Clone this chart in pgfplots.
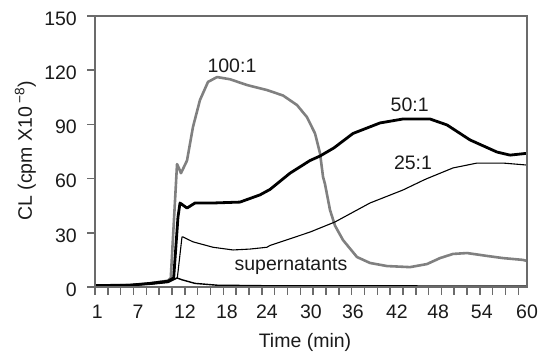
\documentclass[border=0pt]{standalone}
\usepackage{pgfplots}
\pgfplotsset{compat=1.18}
\usepackage{fontspec}
\setmainfont{Liberation Sans}
\definecolor{curvegray}{HTML}{808080}
\definecolor{txt}{HTML}{1A1A1A}
\begin{document}
\fontsize{19.5}{23}\selectfont
\begin{tikzpicture}
\path[use as bounding box] (-95pt,-70pt) rectangle (443pt,287pt);
\begin{axis}[
  at={(0pt,0pt)}, anchor=south west,
  scale only axis, width=432pt, height=271pt,
  xmin=0.7, xmax=60, ymin=0, ymax=150,
  axis line style={black!58, line width=1.6pt},
  major tick length=0pt,
  xtick={1,6.6,13.05,18.8,24.3,30.35,36.1,42.15,47.8,53.8,60},
  xticklabels={1,7,12,18,24,30,36,42,48,54,60},
  ytick={0,30,...,150},
  /pgf/number format/assume math mode=true,
  ticklabel style={txt},
  xticklabel style={inner sep=0pt, anchor=north, yshift=-18pt},
  yticklabel style={inner sep=0pt, anchor=east, xshift=-18pt, yshift=-2.5pt},
  clip=false,
]
% 100:1
\addplot[curvegray, line width=2.6pt, line join=round] coordinates {
(0.7,0.8) (5.5,1) (8.25,2) (10.72,3.5) (11.1,5) (11.96,68) (12.2,66) (12.5,63)
(13.33,70) (14.15,88.6) (15.11,103.5) (16.21,113.5) (17.45,116.2) (19.23,115)
(21.56,111.8) (24.31,109) (26.51,106) (28.43,100.7) (29.8,94) (30.9,85)
(31.59,74) (32.0,61) (32.27,57) (32.96,42.6) (33.64,34) (34.74,26) (36.66,16.6)
(38.45,13.3) (40.78,11.6) (43.94,11) (46.27,12.7) (48.06,16) (49.84,18.3)
(51.76,18.8) (54.51,17.2) (56.71,16) (59.45,15) (60,14.4)};
% 50:1
\addplot[black, line width=2.8pt, line join=round] coordinates {
(0.7,0.8) (5.5,1) (8.25,2) (10.72,3.2) (11.5,5) (12.09,38.7) (12.37,46.5)
(13.33,43.7) (14.43,46.5) (16.9,46.5) (20.6,47) (23.35,51) (24.72,54)
(27.47,63) (30.21,70) (31.59,72.5) (33.5,77) (36.12,85) (39.82,90.8)
(42.98,93) (46.68,93) (49.02,89.7) (52.18,81.4) (55.88,74.7) (57.67,73) (60,74)};
% 25:1
\addplot[black, line width=1.1pt, line join=round] coordinates {
(0.7,0.8) (8.25,1.8) (10.72,3) (12.0,5) (12.64,27.7) (12.78,27.7) (14.15,25)
(16.9,22) (19.64,20.5) (21.98,21) (24.31,22) (24.72,23) (30.21,30.4)
(33.64,36) (38.45,46.5) (42.98,53.7) (45.72,59) (46.27,60) (49.84,65.9)
(53.14,68.6) (56.71,68.6) (60,67.5)};
% supernatants
\addplot[black, line width=1.4pt, line join=round] coordinates {
(0.7,0.5) (8.25,1.5) (10.72,2.5) (11.96,5) (12.64,4) (14.43,2) (17.45,1)
(24,0.7) (60,0.5)};
\node[txt, anchor=base] at (axis cs:19.5,119) {100:1};
\node[txt, anchor=base] at (axis cs:43.9,96.9) {50:1};
\node[txt, anchor=base] at (axis cs:44.35,64.8) {25:1};
\node[txt, anchor=base] at (axis cs:27.6,8.9) {supernatants};
\end{axis}
\draw[black!58, line width=1.6pt] (0pt,0pt) rectangle (432pt,271pt);
\foreach \k in {0,...,33} {
  \draw[black!58, line width=1.5pt] (12.83pt*\k,0pt) -- (12.83pt*\k,-7.5pt);
}
\foreach \k in {0,...,5} {
  \draw[black!58, line width=1.5pt] (0pt,54.2pt*\k) -- (-8pt,54.2pt*\k);
}
\node[txt, rotate=90, anchor=base] at (-63pt,136pt) {CL (cpm X10\,\textsuperscript{−8})};
\node[txt, anchor=base] at (210pt,-60pt) {Time (min)};
\end{tikzpicture}
\end{document}
